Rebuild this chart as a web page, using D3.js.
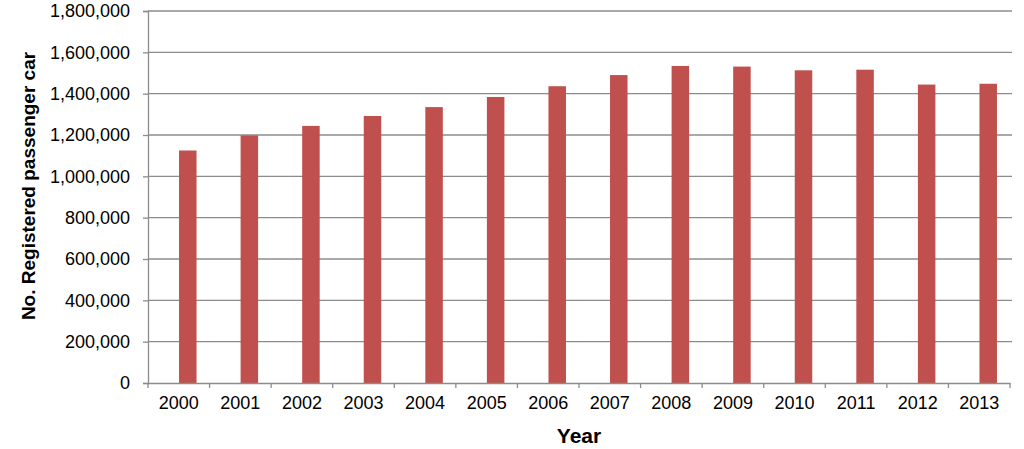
<!DOCTYPE html>
<html>
<head>
<meta charset="utf-8">
<script src="https://cdn.jsdelivr.net/npm/d3@7"></script>
<style>
  body { margin: 0; background: #fff; }
  svg { display: block; font-family: "Liberation Sans", Arial, sans-serif; }
</style>
</head>
<body>
<svg id="chart" width="1024" height="449"></svg>
<script>
// data
const years = ['2000','2001','2002','2003','2004','2005','2006','2007','2008','2009','2010','2011','2012','2013'];
const cars = [1125000, 1198000, 1244000, 1292000, 1335000, 1384000, 1436000, 1490000, 1534000, 1531000, 1513000, 1516000, 1444000, 1448000];
const yTicks = [0, 200000, 400000, 600000, 800000, 1000000, 1200000, 1400000, 1600000, 1800000];

const svg = d3.select('#chart');

// margins
const margins = { top: 11, left: 148, right: 14, bottom: 66 };
const width = 1024 - margins.left - margins.right;
const height = 449 - margins.top - margins.bottom;

const chartGroup = svg.append('g')
  .attr('transform', `translate(${margins.left},${margins.top})`);

const xScale = d3.scaleBand().domain(years).range([0, width]);
const yScale = d3.scaleLinear().domain([0, 1800000]).range([height, 0]);

const gridColor = '#8c8c8c';
const barColor = '#c0504d';
const barWidth = 17.5;
const barShift = 9; // bars sit a little right of the label centre in the original

// gridlines
chartGroup.append('g')
  .selectAll('line')
  .data(yTicks.slice(1))
  .join('line')
  .attr('x1', 0)
  .attr('x2', width + 2)
  .attr('y1', d => yScale(d))
  .attr('y2', d => yScale(d))
  .attr('stroke', gridColor)
  .attr('stroke-width', 1.3);

// bars
chartGroup.append('g')
  .selectAll('rect')
  .data(years)
  .join('rect')
  .attr('x', (d) => xScale(d) + xScale.bandwidth() / 2 + barShift - barWidth / 2)
  .attr('y', (d, i) => yScale(cars[i]))
  .attr('width', barWidth)
  .attr('height', (d, i) => yScale(0) - yScale(cars[i]))
  .attr('fill', barColor);

// y axis
const yAxis = chartGroup.append('g')
  .call(d3.axisLeft(yScale).tickValues(yTicks).tickSize(5).tickPadding(13)
    .tickFormat(d3.format(',')));
yAxis.select('.domain').attr('stroke', gridColor).attr('stroke-width', 1.3);
yAxis.selectAll('.tick line').attr('stroke', gridColor).attr('stroke-width', 1.3);
yAxis.selectAll('text')
  .style('font-size', '18px')
  .style('font-family', '"Liberation Sans", Arial, sans-serif')
  .attr('fill', '#000');

// x axis
const xAxis = chartGroup.append('g')
  .attr('transform', `translate(0,${height})`)
  .call(d3.axisBottom(xScale).tickSize(0).tickPadding(13));
xAxis.select('.domain').attr('stroke', gridColor).attr('stroke-width', 1.3);
xAxis.selectAll('text')
  .style('font-size', '18px')
  .style('font-family', '"Liberation Sans", Arial, sans-serif')
  .attr('fill', '#000');

// x ticks on band edges
chartGroup.append('g')
  .selectAll('line')
  .data(years.concat(['end']))
  .join('line')
  .attr('x1', (d, i) => i * xScale.bandwidth())
  .attr('x2', (d, i) => i * xScale.bandwidth())
  .attr('y1', height)
  .attr('y2', height + 5)
  .attr('stroke', gridColor)
  .attr('stroke-width', 1.3);

// axis titles
svg.append('text')
  .attr('transform', 'translate(35,186) rotate(-90)')
  .attr('text-anchor', 'middle')
  .style('font-size', '19px')
  .style('font-weight', 'bold')
  .text('No. Registered passenger car');

svg.append('text')
  .attr('x', 579)
  .attr('y', 443)
  .attr('text-anchor', 'middle')
  .style('font-size', '21px')
  .style('font-weight', 'bold')
  .text('Year');
</script>
</body>
</html>
